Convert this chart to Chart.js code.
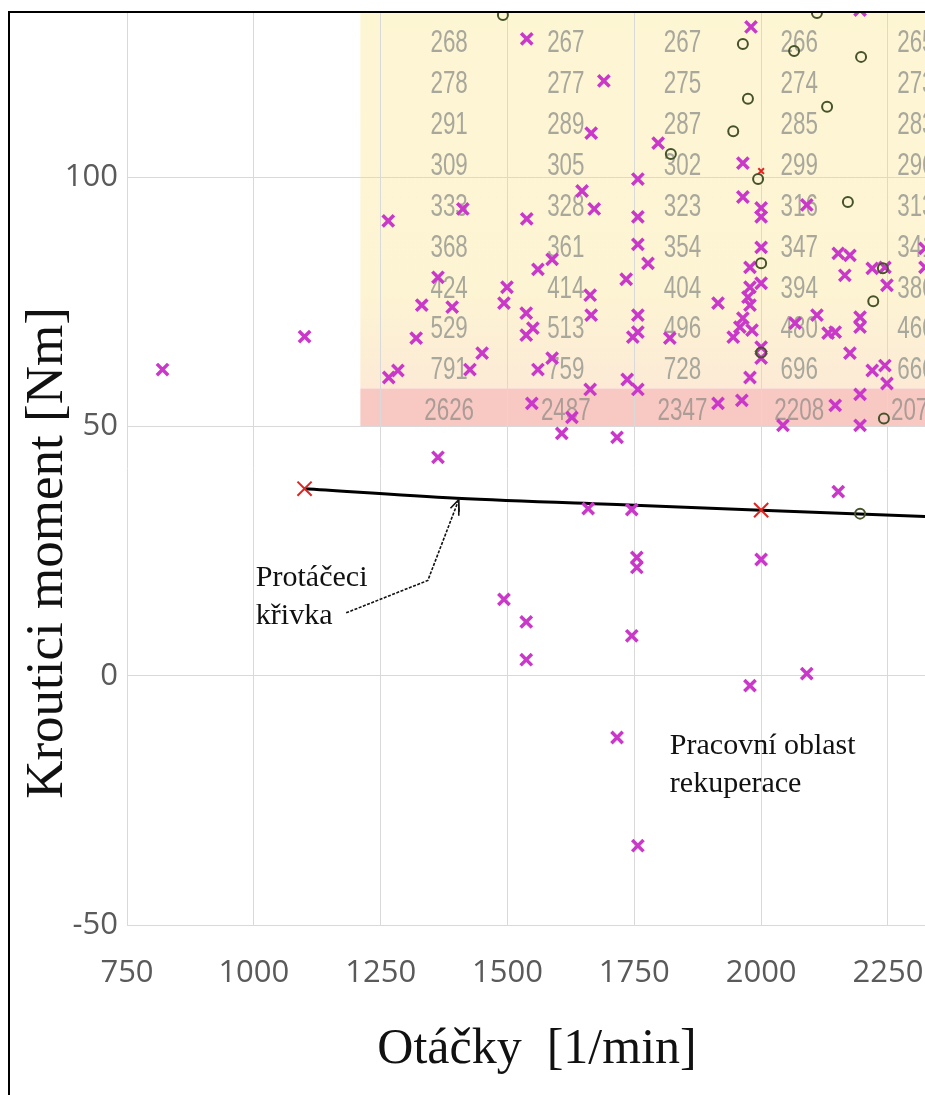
<!DOCTYPE html>
<html>
<head>
    <title>Kroutici moment - otáčky</title>
    <meta charset="utf-8" />
    <script src="https://cdn.jsdelivr.net/npm/chart.js"></script>
    <style>
        html, body { margin: 0; padding: 0; background: #fff; }
        #chart { display: block; }
    </style>
</head>
<body>
    <canvas id="chart" width="925" height="1095"></canvas>

    <script>
        // osy
        var xTicks = [750, 1000, 1250, 1500, 1750, 2000, 2250];
        var yTicks = [-50, 0, 50, 100];

        // protáčecí křivka
        var curveRpm = [1100, 1400, 1750, 2000, 2325];
        var curveTorque = [37.5, 35.6, 34.2, 33.2, 31.9];

        // červené body křivky
        var redRpm = [1100, 2000, 2000];
        var redTorque = [37.5, 33.2, 101.2];

        // naměřené body (fialové křížky)
        var measRpm = [820, 1100, 1265, 1363, 1331, 1391, 1320, 1266, 1284, 1412,
            1426, 1450, 1499, 1493, 1538, 1537, 1550, 1537, 1560, 1588,
            1647, 1671, 1663, 1665, 1560, 1588, 1663, 1548, 1627, 1607,
            1716, 1757, 1757, 1777, 1734, 1757, 1747, 1757, 1736, 1757,
            1538, 1690, 1665, 1757, 1797, 1964, 1980, 1964, 2000, 2000,
            2090, 2000, 1978, 2000, 1978, 1974, 1978, 1915, 1964, 1958,
            1945, 1982, 2000, 2000, 1978, 1962, 1915, 1820, 2067, 2110,
            2132, 2146, 2152, 2175, 2165, 2219, 2244, 2248, 2195, 2195,
            2175, 2219, 2244, 2248, 2195, 2146, 2043, 2195, 2323, 2323,
            2195, 1363, 1659, 1745, 1755, 1755, 1493, 1537, 1537, 1745,
            2152, 2000, 2090, 1978, 1716, 1757];
        var measTorque = [61.4, 68, 91.2, 79.9, 74.3, 73.9, 67.7, 59.8, 61.2, 93.6,
            61.4, 64.7, 77.9, 74.7, 91.6, 72.7, 69.7, 68.3, 81.5, 83.5,
            97.2, 93.6, 76.3, 72.3, 61.4, 63.7, 57.4, 54.6, 51.8, 48.6,
            47.8, 92.0, 86.5, 82.7, 79.5, 72.3, 67.9, 68.9, 59.4, 57.4,
            127.7, 119.3, 108.8, 99.6, 106.8, 102.8, 130.1, 96.0, 93.8, 92.0,
            94.4, 85.9, 81.9, 78.7, 77.9, 75.9, 74.3, 74.7, 71.7, 69.9,
            67.9, 69.3, 65.9, 63.7, 59.8, 55.2, 54.6, 67.7, 70.7, 72.3,
            68.7, 68.9, 84.7, 84.3, 80.3, 81.7, 81.9, 78.3, 71.9, 69.9,
            64.7, 61.2, 62.2, 58.6, 56.4, 54.2, 50.2, 50.2, 85.7, 81.9,
            133.5, 43.8, 33.5, 33.3, 23.7, 21.7, 15.3, 10.8, 3.2, 8.0,
            36.9, 23.3, 0.4, -2.0, -12.4, -34.1];

        // kroužky
        var circRpm = [1491, 1964, 2065, 2197, 1974, 2130, 1945, 1822, 1994, 2171,
            2110, 2000, 2221, 2242, 2240, 2000, 2195];
        var circTorque = [132.5, 126.7, 125.3, 124.1, 115.7, 114.1, 109.2, 104.6, 99.6, 95.0,
            132.9, 82.7, 75.1, 51.6, 81.7, 64.8, 32.5];

        // mapa měrné spotřeby (podklad)
        var mapRpm = [1385, 1615, 1845, 2075, 2305];
        var mapTorque = [135, 126.8, 118.6, 110.4, 102.2, 94.0, 85.8, 77.6, 69.4, 61.2, 53.0];
        var mapCol1 = [262, 268, 278, 291, 309, 333, 368, 424, 529, 791, 2626];
        var mapCol2 = [262, 267, 277, 289, 305, 328, 361, 414, 513, 759, 2487];
        var mapCol3 = [261, 267, 275, 287, 302, 323, 354, 404, 496, 728, 2347];
        var mapCol4 = [261, 266, 274, 285, 299, 316, 347, 394, 480, 696, 2208];
        var mapCol5 = [260, 265, 273, 283, 296, 313, 341, 386, 466, 666, 2074];
        var mapRegionRpm = 1210;
        var mapRegionTorque = [50, 57.6];

        function toPoints(xs, ys) {
            return xs.map(function(x, i) { return { x: x, y: ys[i] }; });
        }

        var mapCols = [mapCol1, mapCol2, mapCol3, mapCol4, mapCol5];

        // podklad mapy pod mřížkou
        var mapBackground = {
            id: 'mapBackground',
            beforeDraw: function(chart) {
                var ctx = chart.ctx, a = chart.chartArea;
                var xs = chart.scales.x, ys = chart.scales.y;
                var left = xs.getPixelForValue(mapRegionRpm);
                var bottom = ys.getPixelForValue(mapRegionTorque[0]);
                var bandTop = ys.getPixelForValue(mapRegionTorque[1]);
                ctx.save();
                ctx.beginPath();
                ctx.rect(a.left, a.top, a.right - a.left, a.bottom - a.top);
                ctx.clip();
                var g = ctx.createLinearGradient(0, a.top, 0, bandTop);
                g.addColorStop(0, '#fdf6d3');
                g.addColorStop(0.75, '#fdf4d3');
                g.addColorStop(1, '#fcead6');
                ctx.fillStyle = g;
                ctx.fillRect(left, a.top, a.right - left, bandTop - a.top);
                ctx.fillStyle = '#f8c8c3';
                ctx.fillRect(left, bandTop, a.right - left, bottom - bandTop);
                ctx.restore();
            },
            beforeDatasetsDraw: function(chart) {
                var ctx = chart.ctx, a = chart.chartArea;
                var xs = chart.scales.x, ys = chart.scales.y;
                ctx.save();
                ctx.beginPath();
                ctx.rect(a.left, a.top, a.right - a.left, a.bottom - a.top);
                ctx.clip();
                ctx.font = '32px "Liberation Sans"';
                ctx.textAlign = 'center';
                ctx.textBaseline = 'middle';
                mapCols.forEach(function(col, i) {
                    var px = xs.getPixelForValue(mapRpm[i]);
                    col.forEach(function(v, j) {
                        var py = ys.getPixelForValue(mapTorque[j]);
                        ctx.save();
                        ctx.translate(px, py);
                        ctx.scale(0.7, 1);
                        ctx.fillStyle = j === col.length - 1 ? '#ab9c96' : '#a7a79c';
                        ctx.fillText(String(v), 0, 0);
                        ctx.restore();
                    });
                });
                ctx.restore();
            }
        };

        // popisky, šipka, názvy os a rámeček
        var annotations = {
            id: 'annotations',
            afterDraw: function(chart) {
                var ctx = chart.ctx;
                var xs = chart.scales.x, ys = chart.scales.y;
                function X(v) { return xs.getPixelForValue(v); }
                function Y(v) { return ys.getPixelForValue(v); }

                ctx.save();
                ctx.fillStyle = '#111';
                ctx.font = '30px "Liberation Serif"';
                ctx.textAlign = 'left';
                ctx.textBaseline = 'alphabetic';
                ctx.fillText('Protáčeci', X(1004), Y(17.9));
                ctx.fillText('křivka', X(1004), Y(10.4));
                ctx.fillText('Pracovní oblast', X(1820), Y(-15.7));
                ctx.fillText('rekuperace', X(1820), Y(-23.3));

                // šipka k protáčecí křivce
                var sx = X(1182), sy = Y(12.6);
                var mx = X(1343), my = Y(19.1);
                var tx = X(1404), ty = Y(35.3);
                ctx.strokeStyle = '#111';
                ctx.lineWidth = 1.6;
                ctx.setLineDash([3, 1.5]);
                ctx.beginPath();
                ctx.moveTo(sx, sy);
                ctx.lineTo(mx, my);
                ctx.lineTo(tx, ty);
                ctx.stroke();
                ctx.setLineDash([]);
                var ang = Math.atan2(ty - my, tx - mx);
                ctx.beginPath();
                ctx.moveTo(tx + 12 * Math.cos(ang + Math.PI - 0.4), ty + 12 * Math.sin(ang + Math.PI - 0.4));
                ctx.lineTo(tx, ty);
                ctx.lineTo(tx + 12 * Math.cos(ang + Math.PI + 0.4), ty + 12 * Math.sin(ang + Math.PI + 0.4));
                ctx.moveTo(tx, ty);
                ctx.lineTo(tx, ty + 16);
                ctx.stroke();

                // názvy os
                ctx.font = '53px "Liberation Serif"';
                ctx.textAlign = 'center';
                ctx.textBaseline = 'middle';
                ctx.save();
                ctx.translate(48, 553);
                ctx.rotate(-Math.PI / 2);
                ctx.fillText('Kroutici moment [Nm]', 0, 0);
                ctx.restore();
                ctx.font = '50px "Liberation Serif"';
                ctx.textBaseline = 'alphabetic';
                ctx.fillText('Otáčky  [1/min]', 537, 1063);

                // rámeček obrázku
                ctx.strokeStyle = '#000';
                ctx.lineWidth = 2;
                ctx.beginPath();
                ctx.moveTo(9, chart.height);
                ctx.lineTo(9, 12);
                ctx.lineTo(chart.width, 12);
                ctx.stroke();
                ctx.restore();
            }
        };

        var tickFont = { family: '"Open Sans"', size: 31 };

        function noPadding(s) {
            s.paddingTop = 0;
            s.paddingBottom = 0;
            s.paddingLeft = 0;
            s.paddingRight = 0;
        }

        new Chart(document.getElementById('chart'), {
            data: {
                datasets: [{
                    type: 'scatter',
                    label: 'kroužky',
                    data: toPoints(circRpm, circTorque),
                    pointStyle: 'circle',
                    pointRadius: 5,
                    borderWidth: 2,
                    borderColor: '#46532a',
                    backgroundColor: 'rgba(0,0,0,0)',
                    order: 1
                }, {
                    type: 'scatter',
                    label: 'měření',
                    data: toPoints(measRpm, measTorque),
                    pointStyle: 'crossRot',
                    pointRadius: 8,
                    borderWidth: 3.5,
                    borderColor: '#c938c9',
                    order: 2
                }, {
                    type: 'scatter',
                    label: 'body křivky',
                    data: toPoints(redRpm, redTorque),
                    pointStyle: 'crossRot',
                    pointRadius: [10, 10, 4],
                    borderWidth: 2,
                    borderColor: '#e3231f',
                    order: 3
                }, {
                    type: 'line',
                    label: 'Protáčeci křivka',
                    data: toPoints(curveRpm, curveTorque),
                    borderColor: '#000',
                    borderWidth: 3,
                    pointRadius: 0,
                    cubicInterpolationMode: 'monotone',
                    order: 4
                }]
            },
            options: {
                responsive: false,
                animation: false,
                events: [],
                layout: { autoPadding: false, padding: { left: 9, top: 12, right: 0, bottom: 0 } },
                plugins: {
                    legend: { display: false },
                    tooltip: { enabled: false }
                },
                scales: {
                    x: {
                        type: 'linear',
                        min: 750,
                        max: 2323,
                        afterBuildTicks: function(s) { s.ticks = xTicks.map(function(v) { return { value: v }; }); },
                        afterFit: function(s) { s.height = 170; noPadding(s); },
                        grid: { color: '#d9d9d9', drawTicks: false },
                        border: { display: false },
                        ticks: {
                            font: tickFont, color: '#5a5a5a', padding: 30, maxRotation: 0, autoSkip: false,
                            callback: function(v) { return String(v); }
                        }
                    },
                    y: {
                        type: 'linear',
                        min: -50,
                        max: 133.1,
                        afterBuildTicks: function(s) { s.ticks = yTicks.map(function(v) { return { value: v }; }); },
                        afterFit: function(s) { s.width = 118; noPadding(s); },
                        grid: { color: '#d9d9d9', drawTicks: false },
                        border: { display: false },
                        ticks: {
                            font: tickFont, color: '#5a5a5a', padding: 9,
                            callback: function(v) { return String(v); }
                        }
                    }
                }
            },
            plugins: [mapBackground, annotations]
        });
    </script>
</body>
</html>
